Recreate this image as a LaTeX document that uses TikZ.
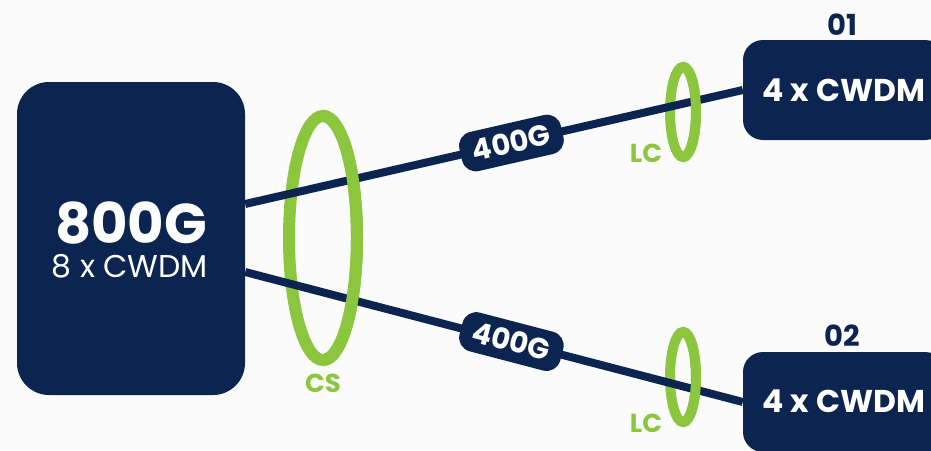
\documentclass[tikz,border=0pt]{standalone}
\usepackage{fontspec}
\setmainfont{Poppins}

\definecolor{navy}{HTML}{0B2550}
\definecolor{lime}{HTML}{8CC63F}
\definecolor{paper}{HTML}{FBFBFB}

\tikzset{
  box/.style={fill=navy, draw=none, rounded corners=#1, inner sep=0pt},
  box/.default=20pt,
  cable/.style={draw=navy, line width=8pt},
  tag/.style={fill=navy, rounded corners=14pt, minimum width=104pt, minimum height=40pt,
              inner sep=0pt, text=white, text height=20pt, text depth=0pt,
              font=\fontsize{29}{29}\selectfont\bfseries, sloped},
  ring/.style={draw=lime, line width=#1},
  ringtext/.style={text=lime, inner sep=0pt, anchor=base,
                   font=\fontsize{26}{26}\selectfont\bfseries},
  boxtext/.style={text=white, inner sep=0pt, anchor=base},
  porttext/.style={text=navy, inner sep=0pt, anchor=base,
                   font=\fontsize{29}{29}\selectfont\bfseries}
}

\begin{document}
\begin{tikzpicture}[x=1pt, y=-1pt]
  \useasboundingbox (0,0) rectangle (931,450);
  \fill[paper] (0,0) rectangle (931,450);
  \clip (0,0) rectangle (931,450);

  % transceiver and the two breakout ends
  \node[box=32pt, minimum width=228pt, minimum height=313pt] (src) at (131,238.5) {};
  \node[boxtext, font=\fontsize{56}{56}\selectfont\bfseries] (srcA) at (131,243) {800G};
  \node[boxtext, font=\fontsize{31.5}{31.5}\selectfont] (srcB) at (130,277) {8 x CWDM};

  \node[box, minimum width=202pt, minimum height=100pt] (o1) at (844,90) {};
  \node[box, minimum width=202pt, minimum height=100pt] (o2) at (844,402) {};
  \node[boxtext, font=\fontsize{31.5}{31.5}\selectfont\bfseries] (o1t) at (844,101) {4 x CWDM};
  \node[boxtext, font=\fontsize{31.5}{31.5}\selectfont\bfseries] (o2t) at (844,412) {4 x CWDM};
  \node[porttext] (n1) at (842,35) {01};
  \node[porttext] (n2) at (842,346) {02};

  % rings: full ellipse behind the cables
  \draw[ring=12pt] (323,238) ellipse[x radius=34, y radius=122];
  \draw[ring=10pt] (683,112) ellipse[x radius=13, y radius=45];
  \draw[ring=10pt] (683,377) ellipse[x radius=13, y radius=45];

  % cables with their rate tags
  \draw[cable] ([yshift=34.5pt]src.east) -- node[tag, pos=0.535] (r1) {400G} (o1.west);
  \draw[cable] ([yshift=-33.5pt]src.east) -- node[tag, pos=0.535] (r2) {400G} (o2.west);

  % right halves of the rings pass over the cables
  \begin{scope}
    \clip (323,100) rectangle (370,380);
    \draw[ring=12pt] (323,238) ellipse[x radius=34, y radius=122];
  \end{scope}
  \begin{scope}
    \clip (683,50) rectangle (710,170);
    \draw[ring=10pt] (683,112) ellipse[x radius=13, y radius=45];
  \end{scope}
  \begin{scope}
    \clip (683,320) rectangle (710,435);
    \draw[ring=10pt] (683,377) ellipse[x radius=13, y radius=45];
  \end{scope}

  \node[ringtext] (cs) at (323,392) {CS};
  \node[ringtext] (lc1) at (646,162) {LC};
  \node[ringtext] (lc2) at (646,432) {LC};
\end{tikzpicture}
\end{document}
